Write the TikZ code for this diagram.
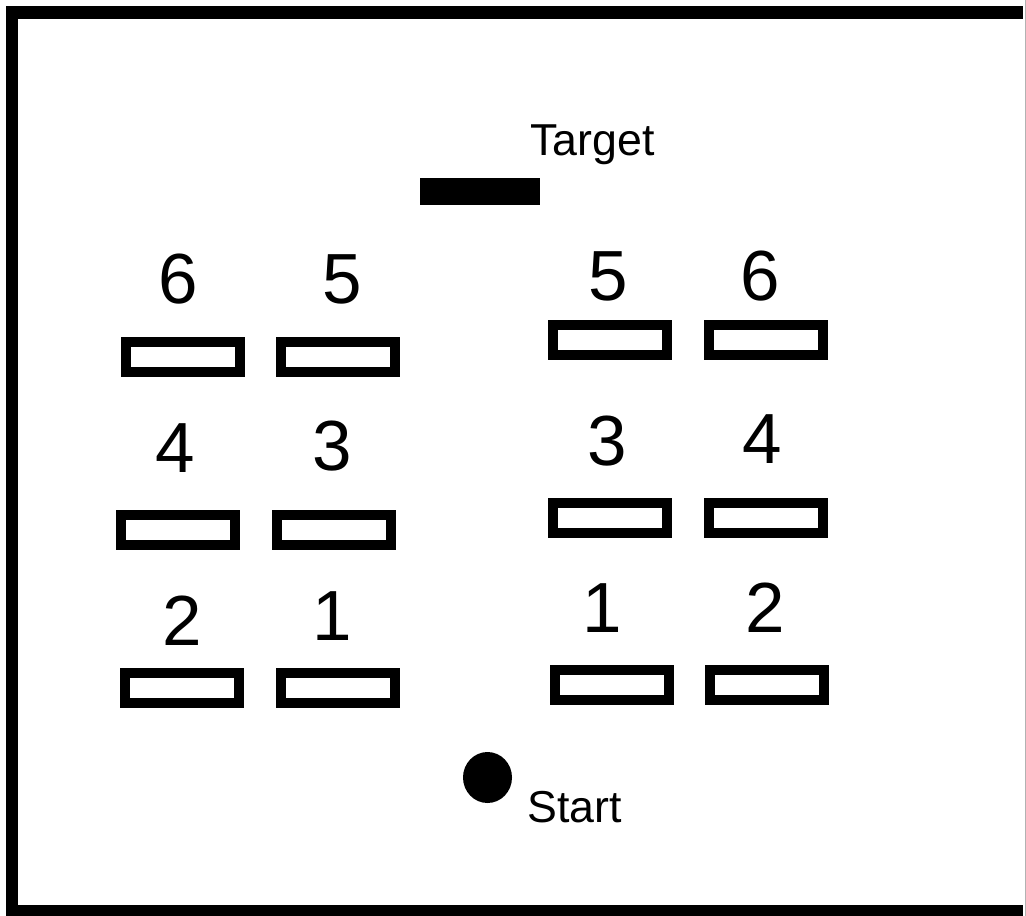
\documentclass[tikz,border=0pt]{standalone}
\usepackage{fontspec}
\setmainfont{Liberation Sans}
\usetikzlibrary{shapes.geometric}
\begin{document}
\begin{tikzpicture}[x=1pt,y=-1pt,
  shelf/.style={draw=black,line width=10pt,fill=white,minimum width=114pt,minimum height=30pt,inner sep=0pt,rectangle},
  num/.style={anchor=base,inner sep=0pt,font=\fontsize{71}{80}\selectfont},
  lbl/.style={anchor=base west,inner sep=0pt,font=\fontsize{44.7}{50}\selectfont},
  wall/.style={fill=black}]
\useasboundingbox (0,0) rectangle (1026,916);
\fill[white] (0,0) rectangle (1026,916);
% walls
\fill[wall] (6,6) rectangle (1023,19);
\fill[wall] (6,6) rectangle (18,916);
\fill[wall] (6,905) rectangle (1023,916);
\draw[gray!60,line width=1pt] (1025,0) -- (1025,916);
% target
\node[fill=black,minimum width=120pt,minimum height=27pt,inner sep=0pt] (target) at (480,191.5) {};
\node[lbl] (targettext) at (530,155) {Target};
% start
\node[ellipse,fill=black,minimum width=49pt,minimum height=51pt,inner sep=0pt] (start) at (487.5,777.5) {};
\node[lbl] (starttext) at (527,822) {Start};
% left shelves
\node[shelf] (L6) at (182.5,356.5) {};
\node[shelf] (L5) at (338,356.5) {};
\node[shelf] (L4) at (178,530) {};
\node[shelf] (L3) at (334,530) {};
\node[shelf] (L2) at (182,688) {};
\node[shelf] (L1) at (338,688) {};
% right shelves
\node[shelf] (R5) at (609.5,340) {};
\node[shelf] (R6) at (765.5,340) {};
\node[shelf] (R3) at (610,518) {};
\node[shelf] (R4) at (765.5,518) {};
\node[shelf] (R1) at (611.5,685) {};
\node[shelf] (R2) at (766.5,685) {};
% labels
\node[num] (nL6) at (178,303) {6};
\node[num] (nL5) at (342,303) {5};
\node[num] (nL4) at (175,472) {4};
\node[num] (nL3) at (332,470) {3};
\node[num] (nL2) at (182,645) {2};
\node[num] (nL1) at (332,640) {1};
\node[num] (nR5) at (608,300) {5};
\node[num] (nR6) at (760,300) {6};
\node[num] (nR3) at (607,465) {3};
\node[num] (nR4) at (762,463) {4};
\node[num] (nR1) at (602,632) {1};
\node[num] (nR2) at (765,632) {2};
\end{tikzpicture}
\end{document}
